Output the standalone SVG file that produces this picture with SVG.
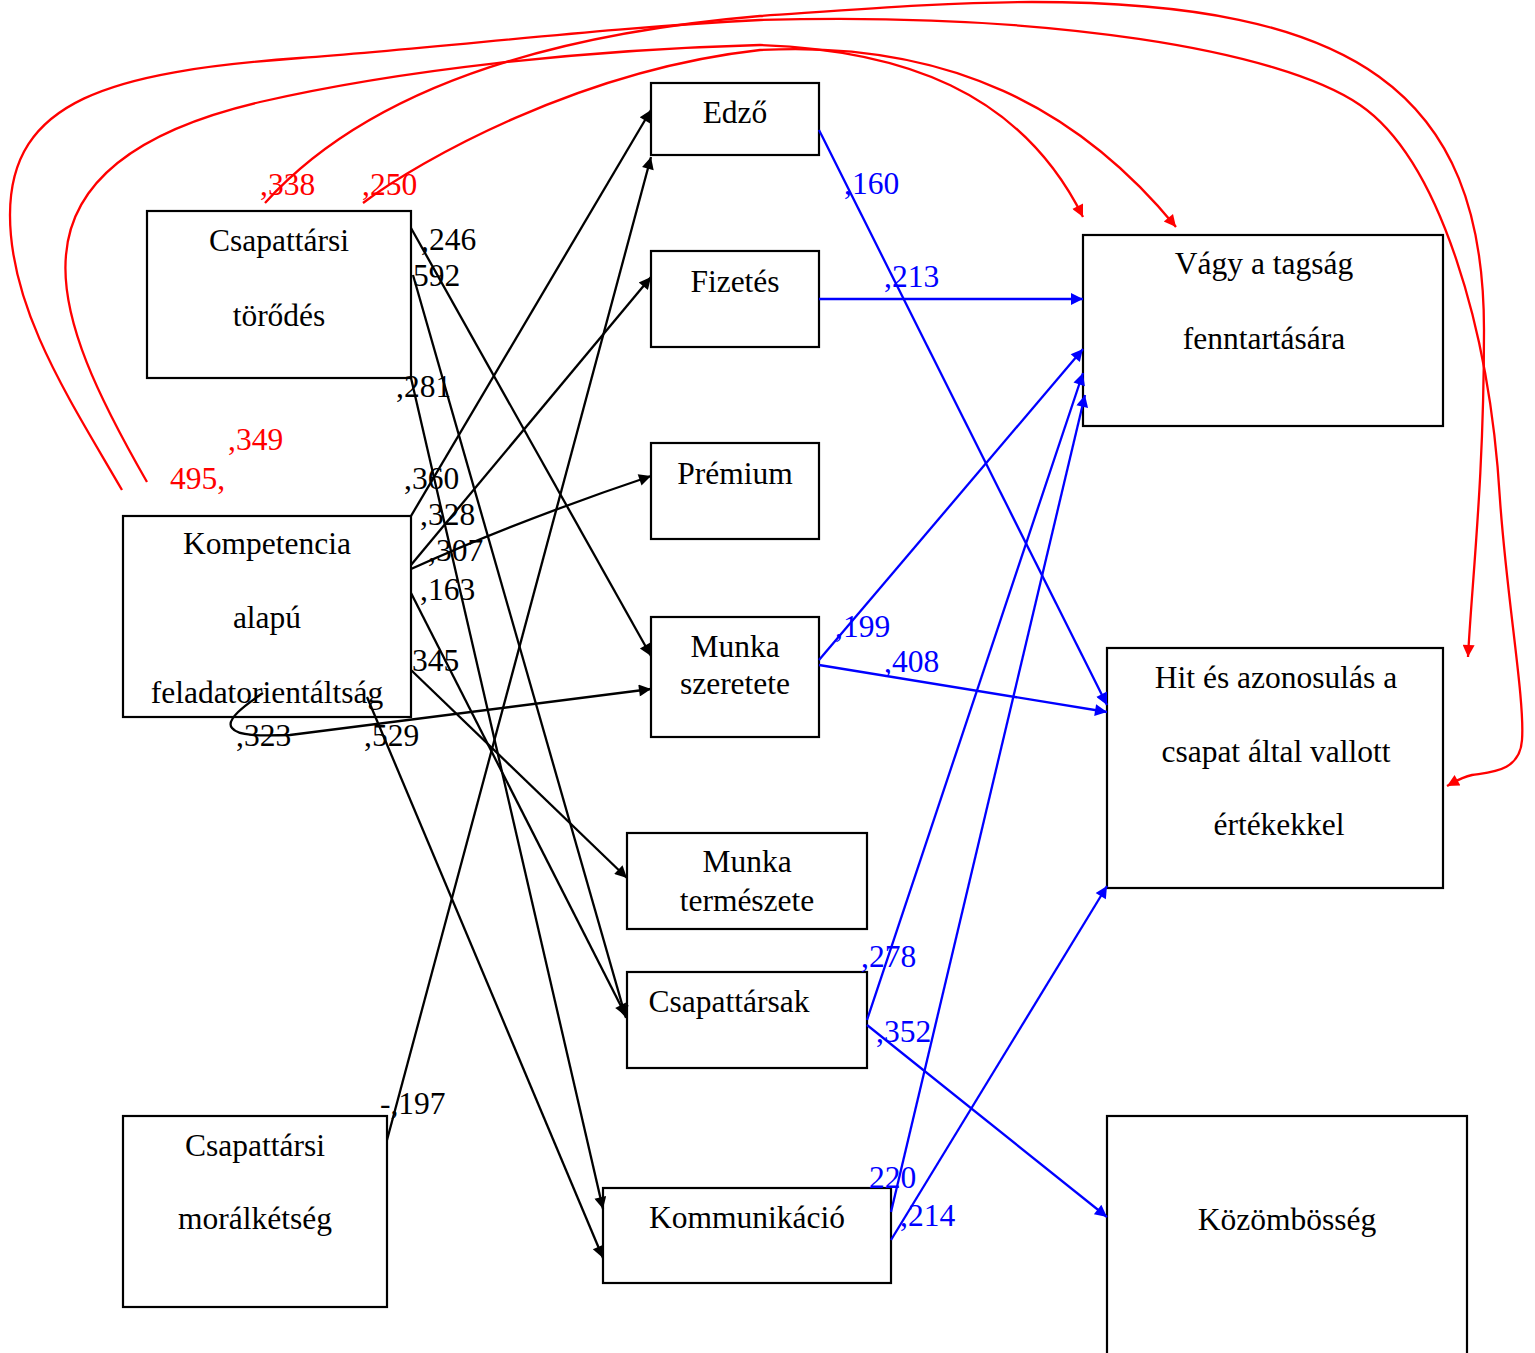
<svg xmlns="http://www.w3.org/2000/svg" width="1535" height="1353" viewBox="0 0 1535 1353">
<style>
.box{fill:#fff;stroke:#000;stroke-width:2.2}
.t{font-family:"Liberation Serif","Times New Roman",serif;font-size:31.5px;fill:#000;text-anchor:middle}
.l{font-family:"Liberation Serif","Times New Roman",serif;font-size:31.5px}
.lk{fill:#000}.lb{fill:#00f}.lr{fill:#f00}
.ck{fill:none;stroke:#000;stroke-width:2.3}
.cb{fill:none;stroke:#00f;stroke-width:2.3}
.cr{fill:none;stroke:#f00;stroke-width:2.3}
</style>
<defs>
<marker id="ak" viewBox="0 0 10 10" refX="10" refY="5" markerWidth="17" markerHeight="12" markerUnits="userSpaceOnUse" orient="auto"><path d="M0,0 L10,5 L0,10 z" fill="#000"/></marker>
<marker id="ab" viewBox="0 0 10 10" refX="10" refY="5" markerWidth="17" markerHeight="12" markerUnits="userSpaceOnUse" orient="auto"><path d="M0,0 L10,5 L0,10 z" fill="#00f"/></marker>
<marker id="ar" viewBox="0 0 10 10" refX="10" refY="5" markerWidth="16" markerHeight="12" markerUnits="userSpaceOnUse" orient="auto"><path d="M0,0 L10,5 L0,10 z" fill="#f00"/></marker>
</defs>
<rect x="0" y="0" width="1535" height="1353" fill="#fff"/>

<g id="n-torodes"><rect class="box" x="147" y="211" width="264" height="167"/><text class="t" x="279" y="251">Csapattársi</text><text class="t" x="279" y="326">törődés</text></g>
<g id="n-kompetencia"><rect class="box" x="123" y="516" width="288" height="201"/><text class="t" x="267" y="554">Kompetencia</text><text class="t" x="267" y="628">alapú</text><text class="t" x="267" y="703">feladatorientáltság</text></g>
<g id="n-moral"><rect class="box" x="123" y="1116" width="264" height="191"/><text class="t" x="255" y="1156">Csapattársi</text><text class="t" x="255" y="1229">morálkétség</text></g>
<g id="n-edzo"><rect class="box" x="651" y="83" width="168" height="72"/><text class="t" x="735" y="123">Edző</text></g>
<g id="n-fizetes"><rect class="box" x="651" y="251" width="168" height="96"/><text class="t" x="735" y="292">Fizetés</text></g>
<g id="n-premium"><rect class="box" x="651" y="443" width="168" height="96"/><text class="t" x="735" y="484">Prémium</text></g>
<g id="n-szeretete"><rect class="box" x="651" y="617" width="168" height="120"/><text class="t" x="735" y="657">Munka</text><text class="t" x="735" y="694">szeretete</text></g>
<g id="n-termeszete"><rect class="box" x="627" y="833" width="240" height="96"/><text class="t" x="747" y="872">Munka</text><text class="t" x="747" y="911">természete</text></g>
<g id="n-csapattarsak"><rect class="box" x="627" y="972" width="240" height="96"/><text class="t" x="729" y="1012">Csapattársak</text></g>
<g id="n-kommunikacio"><rect class="box" x="603" y="1188" width="288" height="95"/><text class="t" x="747" y="1228">Kommunikáció</text></g>
<g id="n-vagy"><rect class="box" x="1083" y="235" width="360" height="191"/><text class="t" x="1264" y="274">Vágy a tagság</text><text class="t" x="1264" y="349">fenntartására</text></g>
<g id="n-hit"><rect class="box" x="1107" y="648" width="336" height="240"/><text class="t" x="1276" y="688">Hit és azonosulás a</text><text class="t" x="1276" y="762">csapat által vallott</text><text class="t" x="1279" y="835">értékekkel</text></g>
<g id="n-kozombosseg"><rect class="box" x="1107" y="1116" width="360" height="260"/><text class="t" x="1287" y="1230">Közömbösség</text></g>

<g id="connectors">
<line class="ck" x1="411" y1="228" x2="651" y2="656" marker-end="url(#ak)"/>
<line class="ck" x1="413" y1="275" x2="626" y2="1018" marker-end="url(#ak)"/>
<line class="ck" x1="411" y1="378" x2="603" y2="1209" marker-end="url(#ak)"/>
<line class="ck" x1="411" y1="516" x2="651" y2="110" marker-end="url(#ak)"/>
<line class="ck" x1="411" y1="565" x2="651" y2="277" marker-end="url(#ak)"/>
<path class="ck" d="M411,569 Q520,520 651,476" marker-end="url(#ak)"/>
<line class="ck" x1="411" y1="593" x2="626" y2="1016" marker-end="url(#ak)"/>
<line class="ck" x1="411" y1="670" x2="627" y2="878" marker-end="url(#ak)"/>
<path class="ck" d="M263,693 C245,705 225,720 232,728 C238,736 260,736 290,735 L651,689" marker-end="url(#ak)"/>
<line class="ck" x1="367" y1="697" x2="603" y2="1258" marker-end="url(#ak)"/>
<line class="ck" x1="387" y1="1140" x2="651" y2="157" marker-end="url(#ak)"/>

<line class="cb" x1="819" y1="130" x2="1107" y2="705" marker-end="url(#ab)"/>
<line class="cb" x1="819" y1="299" x2="1083" y2="299" marker-end="url(#ab)"/>
<line class="cb" x1="819" y1="660" x2="1083" y2="349" marker-end="url(#ab)"/>
<line class="cb" x1="819" y1="665" x2="1107" y2="712" marker-end="url(#ab)"/>
<line class="cb" x1="867" y1="1020" x2="1083" y2="373" marker-end="url(#ab)"/>
<line class="cb" x1="867" y1="1025" x2="1107" y2="1217" marker-end="url(#ab)"/>
<line class="cb" x1="891" y1="1212" x2="1085" y2="395" marker-end="url(#ab)"/>
<line class="cb" x1="891" y1="1240" x2="1107" y2="886" marker-end="url(#ab)"/>

<path class="cr" d="M265,203 C340,120 480,40 760,16 C850,10 950,2 1032,2 C1355,2 1484,92 1484,330 C1484,480 1472,580 1468,657" marker-end="url(#ar)"/>
<path class="cr" d="M363,203 C420,160 580,70 760,50 C950,40 1080,110 1176,227" marker-end="url(#ar)"/>
<path class="cr" d="M122,490 C70,400 10,310 10,215 C10,100 110,72 300,58 C450,47 600,28 760,20 C1050,12 1280,50 1360,105 C1440,160 1490,330 1500,500 C1507,600 1525,700 1522,740 C1520,772 1490,772 1472,775 C1462,777 1456,781 1447,786" marker-end="url(#ar)"/>
<path class="cr" d="M147,482 C100,400 60,320 66,255 C72,180 140,130 260,102 C400,70 580,50 760,45 C900,50 1020,90 1083,217" marker-end="url(#ar)"/>
</g>

<g id="labels" class="l">
<text class="lr" x="260" y="195">,338</text>
<text class="lr" x="362" y="195">,250</text>
<text class="lr" x="228" y="450">,349</text>
<text class="lr" x="170" y="489">495,</text>
<text class="lk" x="421" y="250">,246</text>
<text class="lk" x="413" y="286">592</text>
<text class="lk" x="396" y="397">,281</text>
<text class="lk" x="404" y="489">,360</text>
<text class="lk" x="420" y="525">,328</text>
<text class="lk" x="428" y="561">,307</text>
<text class="lk" x="420" y="600">,163</text>
<text class="lk" x="412" y="671">345</text>
<text class="lk" x="236" y="746">,323</text>
<text class="lk" x="364" y="746">,529</text>
<text class="lk" x="380" y="1114">-,197</text>
<text class="lb" x="844" y="194">,160</text>
<text class="lb" x="884" y="287">,213</text>
<text class="lb" x="835" y="637">,199</text>
<text class="lb" x="884" y="672">,408</text>
<text class="lb" x="861" y="967">,278</text>
<text class="lb" x="876" y="1042">,352</text>
<text class="lb" x="869" y="1188">220</text>
<text class="lb" x="900" y="1226">,214</text>
</g>
</svg>
